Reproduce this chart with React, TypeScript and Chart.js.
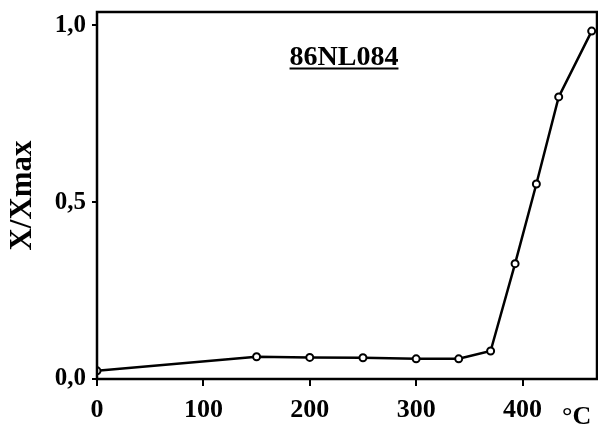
import React, { useEffect, useRef } from "react";
import { Chart, registerables } from "chart.js";

Chart.register(...registerables);

const temperatures = [0, 150, 200, 250, 300, 340, 370, 393, 413, 434, 465];
const ratios = [0.023, 0.063, 0.061, 0.06, 0.057, 0.057, 0.079, 0.326, 0.551, 0.797, 0.983];
const xTickValues = [0, 100, 200, 300, 400];
const yTickValues = [0, 0.5, 1.0];
const yTickLabels = ["0,0", "0,5", "1,0"];
const sampleName = "86NL084";
const xUnit = "°C";
const yTitle = "X/Xmax";

const FONT = "'Liberation Serif', 'Times New Roman', serif";

const decorPlugin = {
  id: "decor",
  afterDraw(chart: any) {
    const { ctx, chartArea } = chart;
    ctx.save();
    ctx.strokeStyle = "#000";
    ctx.lineWidth = 2.5;
    ctx.strokeRect(chartArea.left, chartArea.top, chartArea.right - chartArea.left, chartArea.bottom - chartArea.top);
    // sample title
    ctx.fillStyle = "#000";
    ctx.font = `bold 28px ${FONT}`;
    ctx.textAlign = "center";
    ctx.textBaseline = "alphabetic";
    const cx = 344;
    const by = 65;
    ctx.fillText(sampleName, cx, by);
    const w = ctx.measureText(sampleName).width;
    ctx.lineWidth = 2;
    ctx.beginPath();
    ctx.moveTo(cx - w / 2, by + 3.5);
    ctx.lineTo(cx + w / 2, by + 3.5);
    ctx.stroke();
    // unit
    ctx.font = `bold 26px ${FONT}`;
    ctx.textAlign = "left";
    ctx.fillText(xUnit, 562, 424);
    ctx.restore();
  },
};

export default function App() {
  const ref = useRef<HTMLCanvasElement>(null);
  useEffect(() => {
    if (!ref.current) return;
    const chart = new Chart(ref.current, {
      type: "scatter",
      data: {
        datasets: [
          {
            data: temperatures.map((t, i) => ({ x: t, y: ratios[i] })),
            showLine: true,
            borderColor: "#000",
            borderWidth: 2.5,
            pointRadius: 3.5,
            pointBorderWidth: 2,
            pointBackgroundColor: "#fff",
            pointBorderColor: "#000",
            tension: 0,
          },
        ],
      },
      options: {
        responsive: false,
        animation: false,
        layout: { autoPadding: false, padding: { top: 12, right: 1, left: 0, bottom: 0 } },
        plugins: { legend: { display: false }, tooltip: { enabled: false }, title: { display: false } },
        scales: {
          x: {
            type: "linear",
            min: 0,
            max: 470,
            afterBuildTicks: (s: any) => {
              s.ticks = xTickValues.map((v) => ({ value: v }));
            },
            afterFit: (s: any) => {
              s.height = 53;
              s.paddingLeft = 0;
              s.paddingRight = 0;
            },
            grid: { display: true, drawOnChartArea: false, color: "#000", lineWidth: 2, tickLength: 7 },
            border: { display: false },
            ticks: {
              color: "#000",
              font: { family: FONT, size: 26, weight: "bold" },
              padding: 9,
              maxRotation: 0,
              callback: (v: any) => String(v),
            },
          },
          y: {
            type: "linear",
            min: 0,
            max: 1.037,
            afterBuildTicks: (s: any) => {
              s.ticks = yTickValues.map((v) => ({ value: v }));
            },
            afterFit: (s: any) => {
              s.width = 97;
              s.paddingTop = 0;
              s.paddingBottom = 0;
            },
            grid: { display: true, drawOnChartArea: false, color: "#000", lineWidth: 2, tickLength: 5 },
            border: { display: false },
            ticks: {
              color: "#000",
              font: { family: FONT, size: 25, weight: "bold" },
              padding: 6,
              callback: (v: any) => {
                const i = yTickValues.indexOf(Number(v));
                return i >= 0 ? yTickLabels[i] : "";
              },
            },
            title: {
              display: true,
              text: yTitle,
              color: "#000",
              font: { family: FONT, size: 31, weight: "bold" },
              padding: { top: 4, bottom: 0 },
            },
          },
        },
      },
      plugins: [decorPlugin],
    });
    return () => chart.destroy();
  }, []);
  return (
    <div style={{ position: "fixed", left: 0, top: 0, width: 598, height: 432, background: "#fff" }}>
      <canvas ref={ref} width={598} height={432} style={{ width: 598, height: 432 }} />
    </div>
  );
}
